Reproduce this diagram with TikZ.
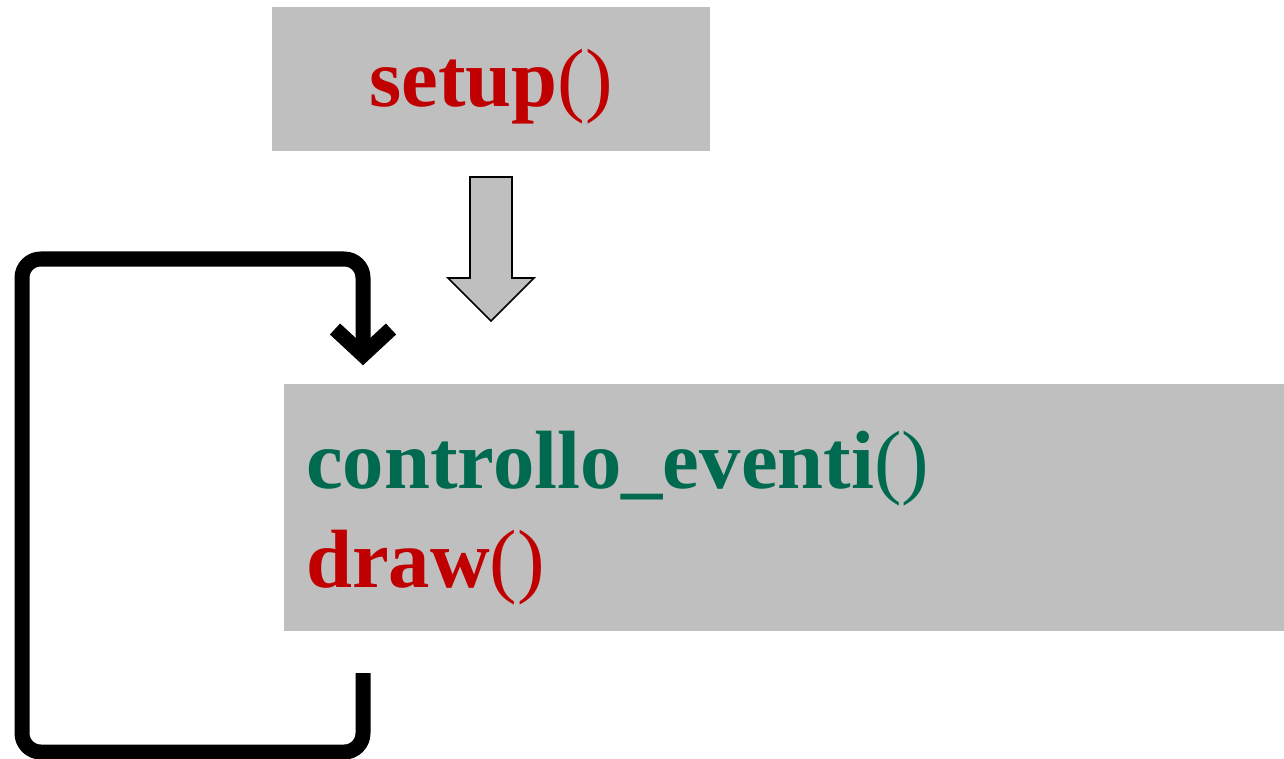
\documentclass[tikz,border=0pt]{standalone}
\usepackage{fontspec}
\setmainfont{Liberation Serif}
\usetikzlibrary{arrows.meta}
\definecolor{boxgray}{HTML}{BFBFBF}
\definecolor{fnred}{HTML}{C00000}
\definecolor{fngreen}{HTML}{006A50}
\newcommand{\parpair}{{\mdseries()}}
\tikzset{
  graybox/.style={fill=boxgray, draw=none, inner sep=0pt},
  codetext/.style={font=\fontsize{62}{74}\selectfont\bfseries, inner sep=0pt},
  loopline/.style={line width=11.25pt, line join=round, rounded corners=14pt},
  blockarrow/.style={fill=boxgray, draw=black, line width=1.2pt, line join=miter}
}
\begin{document}
\begin{tikzpicture}[x=0.75pt, y=-0.75pt]
\useasboundingbox (0,0) rectangle (1284,759);
% setup box
\node[graybox, minimum width=328.5pt, minimum height=108pt] (setup) at (491,79) {};
\node[codetext, text=fnred, anchor=base] (setuptxt) at (491,107) {setup\parpair};
% loop box
\node[graybox, minimum width=750pt, minimum height=185.25pt] (loopbox) at (784,507.5) {};
\node[codetext, text=fngreen, anchor=base west] (ev) at (306,488) {controllo\_eventi\parpair};
\node[codetext, text=fnred, anchor=base west] (dr) at (306,587) {draw\parpair};
% block arrow from setup to loop box
\coordinate (ba) at (491,177);
\draw[blockarrow] (ba) ++(-21,0) -- ++(0,101) -- ++(-22,0) -- (491,321) -- (534,278) -- ++(-22,0) -- ++(0,-101) -- cycle;
% loop connector
\coordinate (ls) at (363,673);
\coordinate (le) at (363,355);
\draw[loopline] (ls) -- (363,752) -- (22,752) -- (22,259) -- (363,259) -- (le);
\draw[line width=11.25pt, line join=miter, line cap=butt] (335,329) -- (le) -- (391,329);
\end{tikzpicture}
\end{document}
